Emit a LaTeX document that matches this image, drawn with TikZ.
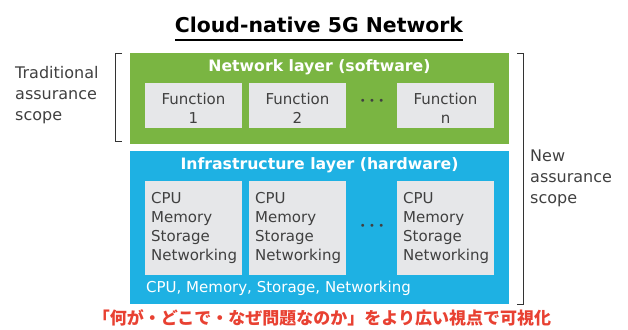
\documentclass[tikz,border=0pt]{standalone}
\usepackage{fontspec}
\setmainfont{DejaVu Sans}
\newfontfamily\cjk{Noto Sans CJK JP}
\definecolor{grn}{RGB}{122,181,66}
\definecolor{blu}{RGB}{30,177,227}
\definecolor{gbox}{RGB}{230,231,233}
\definecolor{txt}{RGB}{64,64,64}
\definecolor{redj}{RGB}{232,65,50}
\tikzset{
  layer/.style={inner sep=0pt, outer sep=0pt},
  fbox/.style={fill=gbox, inner sep=0pt, minimum width=97pt, minimum height=45pt},
  ftxt/.style={text=txt, align=center, inner sep=0pt, font=\fontsize{15}{19}\selectfont},
  hbox/.style={fill=gbox, inner sep=0pt, minimum width=97pt, minimum height=94pt},
  htxt/.style={text=txt, align=left, anchor=north west, inner sep=0pt, font=\fontsize{15}{19}\selectfont},
  ttl/.style={text=white, font=\bfseries\fontsize{15.7}{18}\selectfont, inner sep=0pt},
  side/.style={text=txt, align=left, font=\fontsize{16}{21}\selectfont, inner sep=0pt},
  brk/.style={draw=black!80, line width=0.9pt},
  dots/.style={text=txt, font=\fontsize{10}{10}\selectfont, inner sep=0pt}
}
\begin{document}
\begin{tikzpicture}[x=1pt,y=-1pt]
\useasboundingbox (0,0) rectangle (628,329);
% title
\node[inner sep=0pt, font=\bfseries\fontsize{20.4}{24}\selectfont, text=black] (title) at (319,25) {Cloud-native 5G Network};
\draw[line width=1.6pt] (175,40) -- (463,40);
% layers
\node[layer, fill=grn, minimum width=379pt, minimum height=91pt] (net) at (319.5,98.5) {};
\node[layer, fill=blu, minimum width=379pt, minimum height=153pt] (inf) at (319.5,227.5) {};
\node[ttl] (nett) at (319.5,67) {Network layer (software)};
\node[ttl] (inft) at (319.5,165) {Infrastructure layer (hardware)};
% function boxes
\node[fbox] (f1) at (193.5,105.5) {};
\node[fbox] (f2) at (297.5,105.5) {};
\node[fbox] (fn) at (445.5,105.5) {};
\node[ftxt] (f1t) at (193.5,108) {Function\\1};
\node[ftxt] (f2t) at (297.5,108) {Function\\2};
\node[ftxt] (fnt) at (445.5,108) {Function\\n};
\node[dots] (fd) at (372,102) {•\,\,•\,\,•};
% hardware boxes
\node[hbox] (h1) at (193.5,228) {};
\node[hbox] (h2) at (297.5,228) {};
\node[hbox] (h3) at (445.5,228) {};
\node[htxt] (h1t) at (151,192.5) {CPU\\Memory\\Storage\\Networking};
\node[htxt] (h2t) at (255,192.5) {CPU\\Memory\\Storage\\Networking};
\node[htxt] (h3t) at (403,192.5) {CPU\\Memory\\Storage\\Networking};
\node[dots] (hd) at (372,227) {•\,\,•\,\,•};
\node[text=white, anchor=west, inner sep=0pt, font=\fontsize{15}{19}\selectfont] (hw) at (146,288) {CPU, Memory, Storage, Networking};
% brackets
\draw[brk] (122,53) -- (115,53) -- (115,141) -- (122,141);
\draw[brk] (517,53) -- (523,53) -- (523,304) -- (517,304);
\node[side, anchor=north west] (trad) at (15,66.5) {Traditional\\assurance\\scope};
\node[side, anchor=north west] (new) at (530,150) {New\\assurance\\scope};
% japanese
\node[inner sep=0pt, text=redj, font=\cjk\bfseries\fontsize{17}{18}\selectfont] (jp) at (322,318) {「何が・どこで・なぜ問題なのか」をより広い視点で可視化};
\end{tikzpicture}
\end{document}
